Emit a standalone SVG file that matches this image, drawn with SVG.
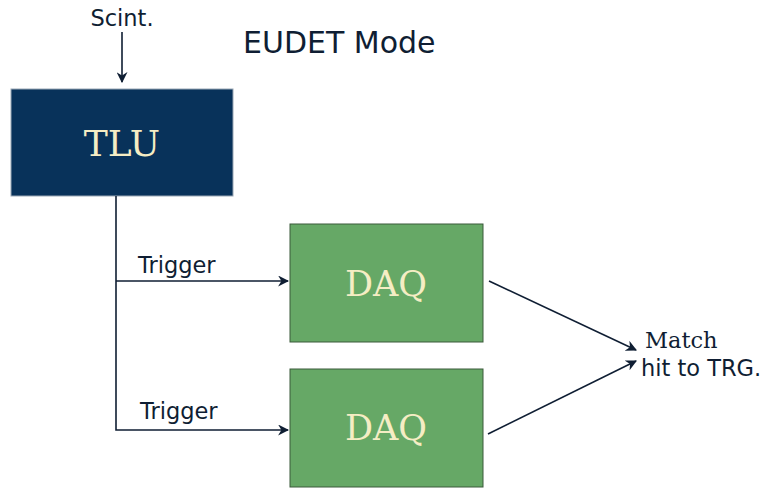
<svg xmlns="http://www.w3.org/2000/svg" width="763" height="489" viewBox="0 0 763 489">
<defs>
<marker id="ah" viewBox="0 0 10 10" refX="9" refY="5" markerWidth="11" markerHeight="11" markerUnits="userSpaceOnUse" orient="auto">
<path d="M0,0 L10,5 L0,10 L3,5 Z" fill="#0f1e33"/>
</marker>
<style>
.box-tlu{fill:#08325a;stroke:#9aa7b5;stroke-width:1}
.box-daq{fill:#66a866;stroke:#3a5a3a;stroke-width:1}
.ntext{font-family:"DejaVu Serif",serif;fill:#f5edc4;text-anchor:middle}
.lbl{font-family:"DejaVu Sans",sans-serif;fill:#0f1e33}
.conn{stroke:#0f1e33;stroke-width:1.6;fill:none}
</style>
</defs>
<rect width="763" height="489" fill="#ffffff"/>
<text class="lbl" x="243" y="53" font-size="30">EUDET Mode</text>
<text class="lbl" x="122" y="26" font-size="22.5" text-anchor="middle">Scint.</text>
<g id="tlu">
<rect class="box-tlu" x="11" y="89" width="222" height="107"/>
<text class="ntext" x="122" y="156" font-size="36">TLU</text>
</g>
<g id="daq1">
<rect class="box-daq" x="290" y="224" width="193" height="118"/>
<text class="ntext" x="386" y="296" font-size="35">DAQ</text>
</g>
<g id="daq2">
<rect class="box-daq" x="290" y="369" width="193" height="118"/>
<text class="ntext" x="386" y="440" font-size="35">DAQ</text>
</g>
<g id="match">
<text x="645" y="348" font-size="22.5" font-family="DejaVu Serif,serif" fill="#0f1e33">Match</text>
<text class="lbl" x="641" y="376" font-size="22.5">hit to TRG.</text>
</g>
<g id="connectors">
<line class="conn" x1="122" y1="32" x2="122" y2="82" marker-end="url(#ah)"/>
<polyline class="conn" points="116,196 116,430 288,430" marker-end="url(#ah)"/>
<line class="conn" x1="116" y1="281" x2="288" y2="281" marker-end="url(#ah)"/>
<line class="conn" x1="489" y1="281" x2="636" y2="350" marker-end="url(#ah)"/>
<line class="conn" x1="488" y1="434" x2="636" y2="361" marker-end="url(#ah)"/>
<text class="lbl" x="138" y="273" font-size="22.5">Trigger</text>
<text class="lbl" x="140" y="419" font-size="22.5">Trigger</text>
</g>
</svg>
